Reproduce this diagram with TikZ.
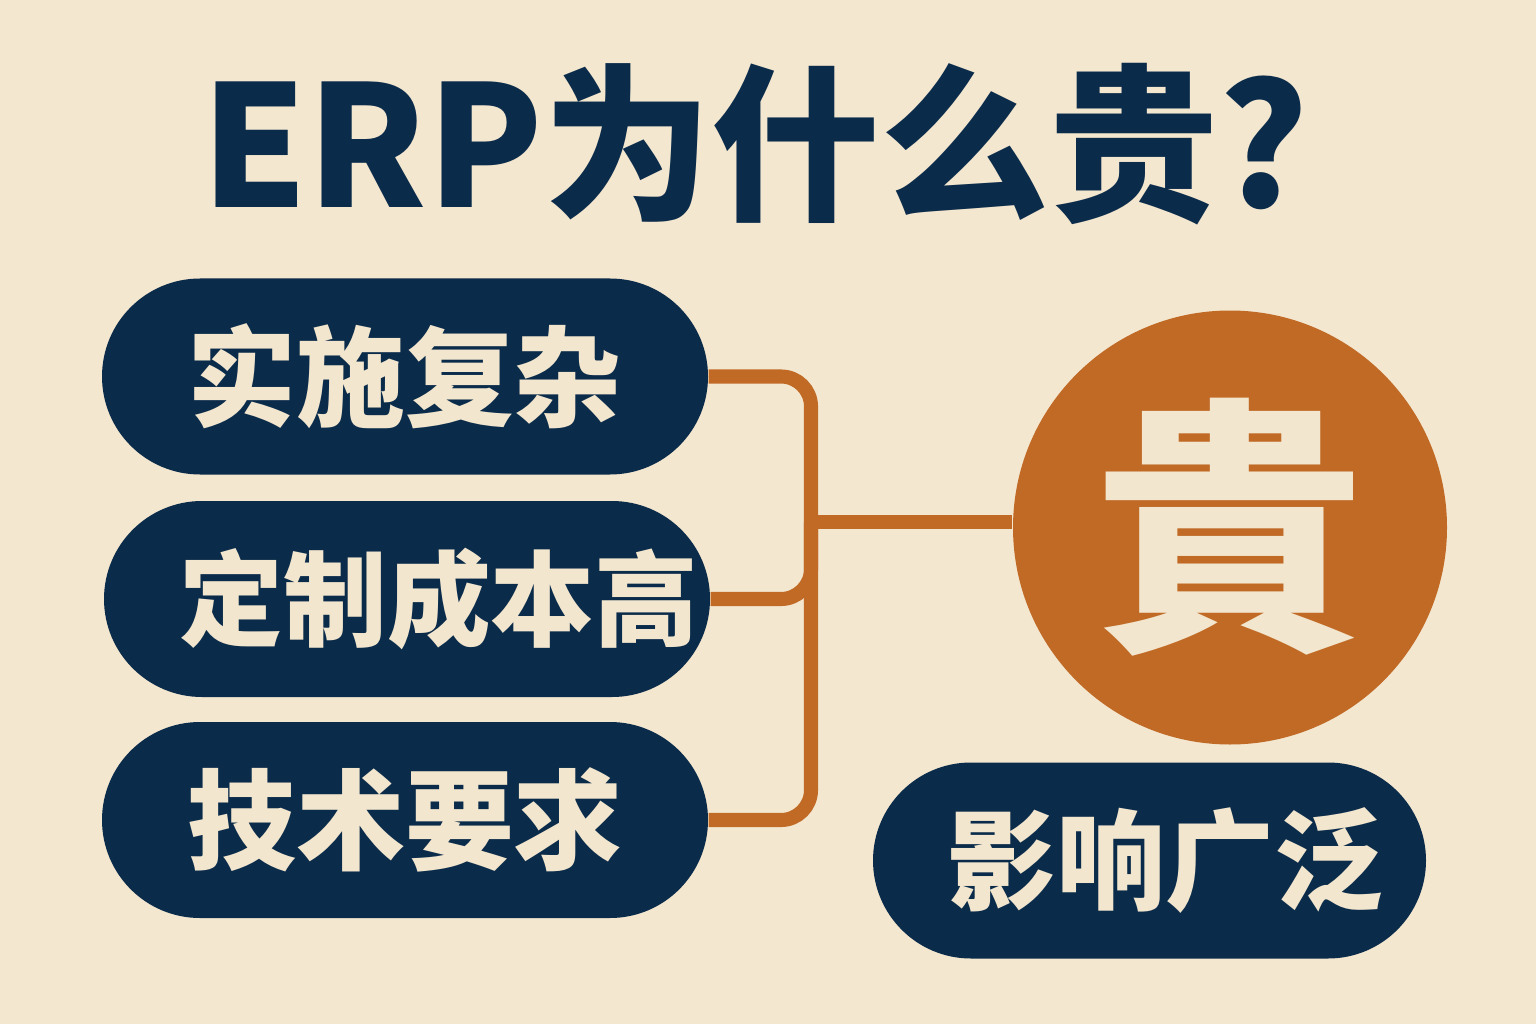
\documentclass[tikz,border=0pt]{standalone}
\usepackage{fontspec}
\setmainfont{Noto Sans CJK SC}
\usetikzlibrary{calc}

\definecolor{bgcream}{RGB}{244,231,208}
\definecolor{navy}{RGB}{10,43,74}
\definecolor{rust}{RGB}{192,106,38}
\definecolor{pilltext}{RGB}{243,230,206}

\tikzset{
  pill/.style={fill=navy,text=pilltext,rounded corners=0.98cm,minimum width=6.06cm,minimum height=1.96cm,inner sep=0pt,font=\fontsize{31}{36}\selectfont\bfseries},
  link/.style={draw=rust,line width=4pt,rounded corners=0.3cm}
}

\begin{document}
\begin{tikzpicture}
\fill[bgcream] (0,0) rectangle (15.36,10.24);
\node[text=navy,font=\fontsize{48}{56}\selectfont\bfseries] (title) at (7.55,8.80) {ERP为什么贵?};
\node[pill] (impl) at (4.05,6.475) {实施复杂};
\node[pill,font=\fontsize{29.5}{34}\selectfont\bfseries] (cost) at (4.07,4.25) {\hspace*{6.4mm}定制成本高};
\node[pill] (tech) at (4.05,2.04) {技术要求};
\node[pill,minimum width=5.53cm] (impact) at (11.495,1.635) {\hspace*{3.2mm}影响广泛};
\node[circle,fill=rust,minimum size=4.34cm,inner sep=0pt,text=pilltext,font=\fontsize{77}{80}\selectfont\bfseries] (hub) at (12.30,4.965) {貴};
\coordinate (jn) at (8.11,5.02);
\draw[link] (impl.east) -| (jn) |- (tech.east);
\draw[link] (cost.east) -| (jn);
\draw[link] (jn) -- (jn -| hub.west);
\end{tikzpicture}
\end{document}
